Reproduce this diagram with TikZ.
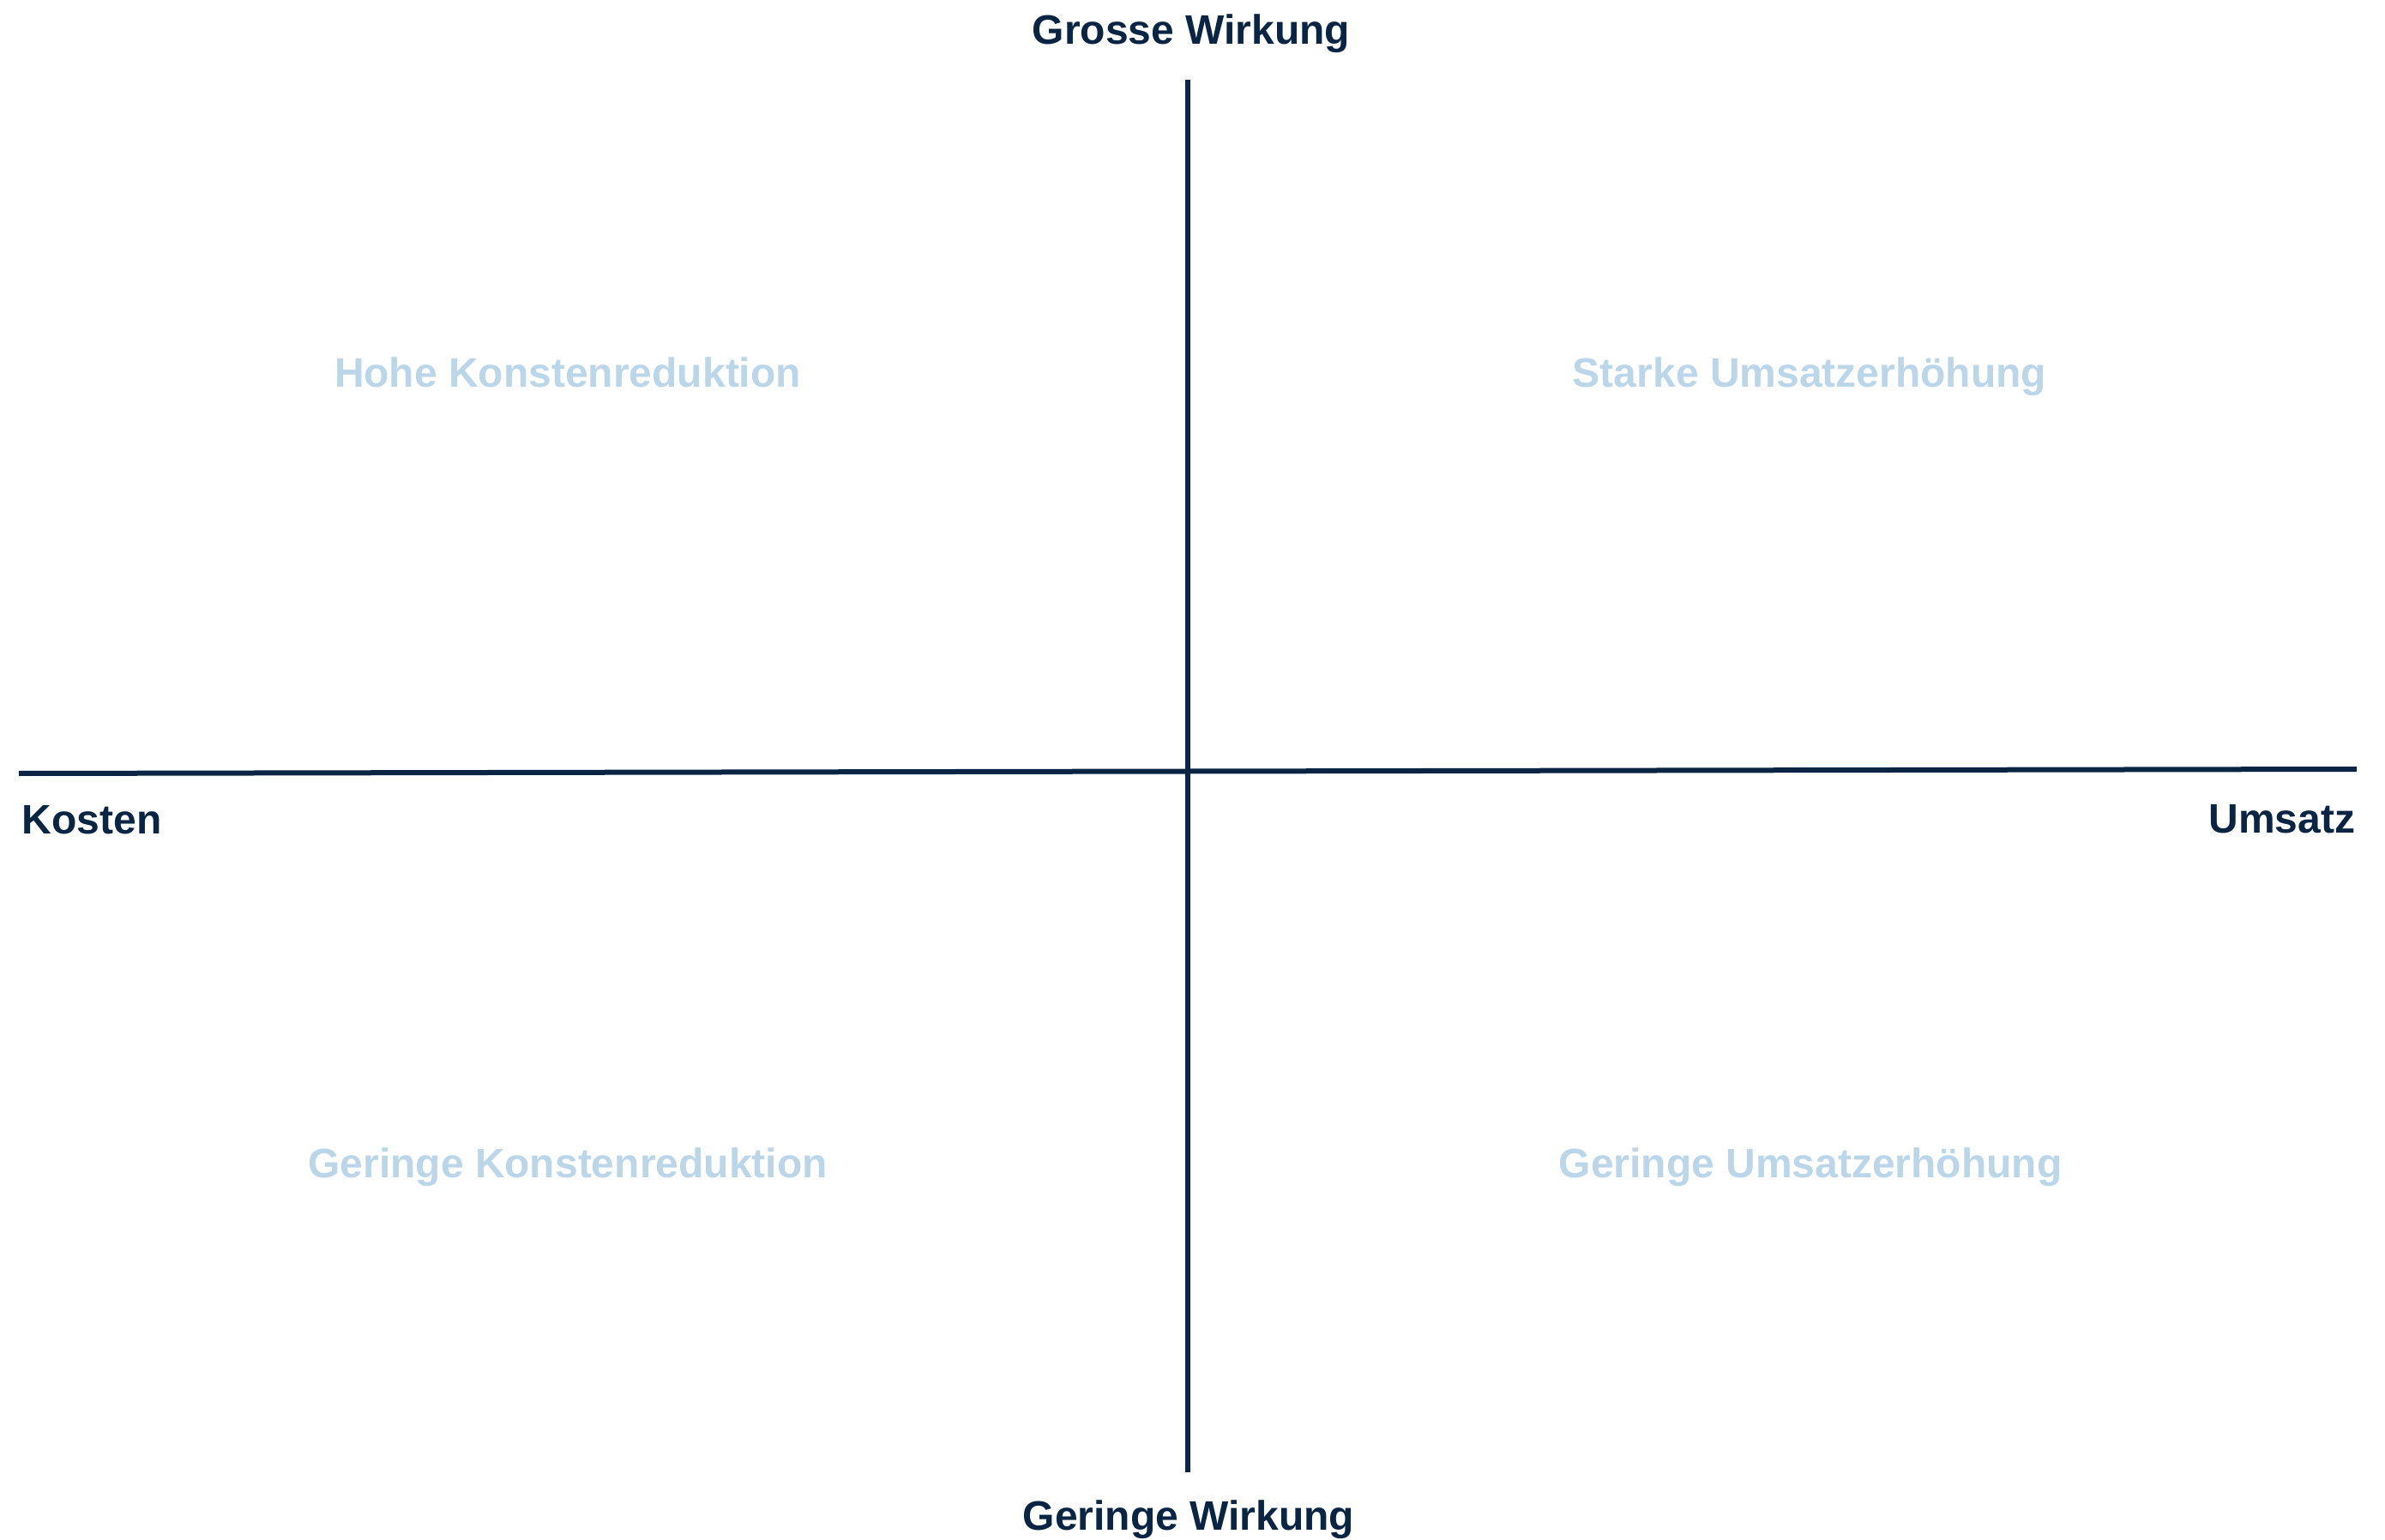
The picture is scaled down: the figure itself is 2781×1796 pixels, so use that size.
\documentclass[tikz,border=0pt]{standalone}
\usepackage{fontspec}
\setmainfont{Liberation Sans}
\usepackage{xcolor}
\usepackage{tikz}
\usetikzlibrary{positioning}
\definecolor{navy}{HTML}{0A2444}
\definecolor{paleblue}{HTML}{BBD6E9}
\tikzstyle{axislabel} = [inner sep=0pt, font=\fontsize{12}{14}\selectfont\bfseries, text=navy]
\tikzstyle{quadlabel} = [inner sep=0pt, anchor=base, font=\fontsize{12}{14}\selectfont\bfseries, text=paleblue]
\tikzstyle{axis} = [line width=1.5pt, draw=navy]

\begin{document}
\begin{tikzpicture}[x=0.25pt, y=-0.25pt]
  \useasboundingbox (0,0) rectangle (2781,1796);

  \coordinate (top) at (1385,93);
  \coordinate (bottom) at (1385,1717);
  \coordinate (left) at (22,902);
  \coordinate (right) at (2748,897);

  \node (grosse) [axislabel, anchor=base] at (1389,52) {Grosse Wirkung};
  \node (geringe) [axislabel, anchor=base] at (1386,1784) {Geringe Wirkung};
  \node (kosten) [axislabel, anchor=base west] at (25,972) {Kosten};
  \node (umsatz) [axislabel, anchor=base east] at (2747,971) {Umsatz};

  \node (hohekr) [quadlabel] at (662,452) {Hohe Konstenreduktion};
  \node (starkeue) [quadlabel] at (2110,452) {Starke Umsatzerhöhung};
  \node (geringekr) [quadlabel] at (662,1373) {Geringe Konstenreduktion};
  \node (geringeue) [quadlabel] at (2111,1373) {Geringe Umsatzerhöhung};

  \draw[axis] (top) -- (bottom);
  \draw[axis] (left) -- (right);
\end{tikzpicture}
\end{document}
